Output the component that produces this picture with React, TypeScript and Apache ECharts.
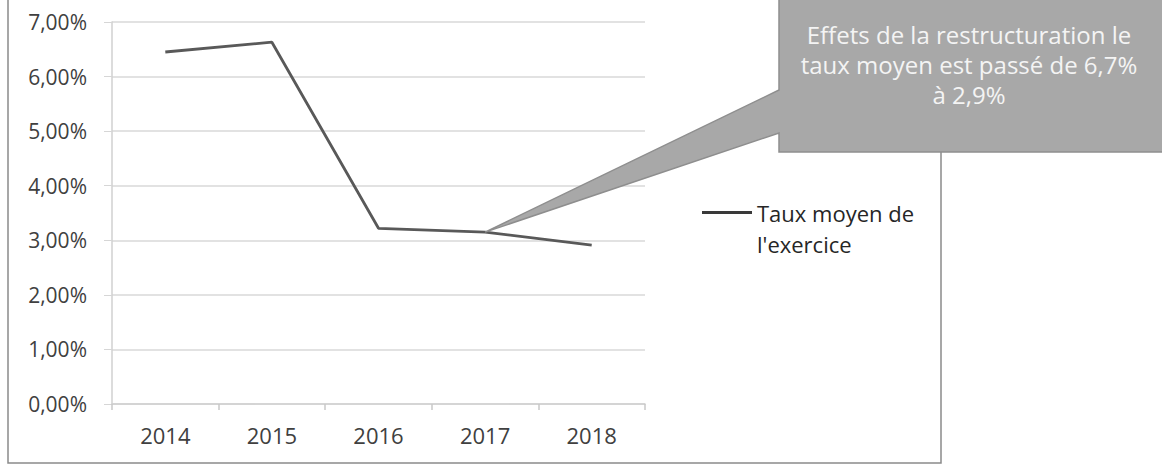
import React, { useEffect, useRef } from "react";
import * as echarts from "echarts";

const years = ["2014", "2015", "2016", "2017", "2018"];
const tauxMoyen = [6.45, 6.63, 3.22, 3.15, 2.91];
const seriesName = "Taux moyen de l'exercice";
const legendLines = ["Taux moyen de", "l'exercice"];
const calloutLines = ["Effets de la restructuration le", "taux moyen est passé de 6,7%", "à 2,9%"];
const calloutIndex = 3;

const FONT = "'Open Sans', 'Noto Sans', sans-serif";

export default function App() {
  const ref = useRef<HTMLDivElement>(null);
  useEffect(() => {
    if (!ref.current) return;
    const chart = echarts.init(ref.current, null, { renderer: "svg" });
    const fmt = (v: number) => v.toFixed(2).replace(".", ",") + "%";
    chart.setOption({
      animation: false,
      textStyle: { fontFamily: FONT },
      grid: { left: 112, right: 517, top: 22, bottom: 62, containLabel: false },
      xAxis: {
        type: "category",
        data: years,
        boundaryGap: true,
        axisLine: { lineStyle: { color: "#d0d0d0", width: 1.5 } },
        axisTick: { show: true, length: 6, lineStyle: { color: "#c8c8c8", width: 1.5 } },
        axisLabel: { color: "#404040", fontSize: 22, margin: 20, fontFamily: FONT },
      },
      yAxis: {
        type: "value",
        min: 0,
        max: 7,
        interval: 1,
        axisLine: { show: true, lineStyle: { color: "#d0d0d0", width: 1.5 } },
        axisTick: { show: true, length: 8, lineStyle: { color: "#d6d6d6" } },
        splitLine: { lineStyle: { color: "#d9d9d9", width: 1.5 } },
        axisLabel: { color: "#404040", fontSize: 21, margin: 25, fontFamily: FONT, formatter: fmt },
      },
      legend: {
        show: true,
        left: 697,
        top: 161,
        orient: "vertical",
        itemWidth: 50,
        itemHeight: 3,
        itemGap: 0,
        icon: "rect",
        formatter: () => "\n" + legendLines.join("\n"),
        textStyle: { color: "#262626", fontSize: 22, lineHeight: 31, fontFamily: FONT },
        data: [{ name: seriesName, itemStyle: { color: "#3a3a3a" } }],
      },
      series: [
        {
          name: seriesName,
          type: "line",
          data: tauxMoyen,
          symbol: "none",
          lineStyle: { color: "#595959", width: 2.8 },
          itemStyle: { color: "#595959" },
        },
      ],
    });
    const tip = chart.convertToPixel({ seriesIndex: 0 }, [calloutIndex, tauxMoyen[calloutIndex]]) as number[];
    const bx = 779;
    chart.setOption({
      graphic: [
        {
          type: "rect",
          shape: { x: 8, y: -3, width: 933, height: 466 },
          style: { fill: "none", stroke: "#8a8a8a", lineWidth: 1.5 },
          z: 1,
        },
        {
          type: "polygon",
          shape: {
            points: [
              [tip[0], tip[1]],
              [bx, 90],
              [bx, -3],
              [1166, -3],
              [1166, 152],
              [bx, 152],
              [bx, 133],
            ],
          },
          style: { fill: "#a8a8a8", stroke: "#8e8e8e", lineWidth: 1.5 },
          z: 100,
        },
        {
          type: "text",
          x: 969,
          y: 19,
          z: 101,
          style: {
            text: calloutLines.join("\n"),
            fill: "#f4f4f4",
            font: `24px ${FONT}`,
            lineHeight: 30,
            align: "center",
            verticalAlign: "top",
          },
        },
      ],
    });
    return () => chart.dispose();
  }, []);
  return <div ref={ref} style={{ position: "fixed", left: 0, top: 0, width: 1162, height: 466, background: "#fff" }} />;
}
